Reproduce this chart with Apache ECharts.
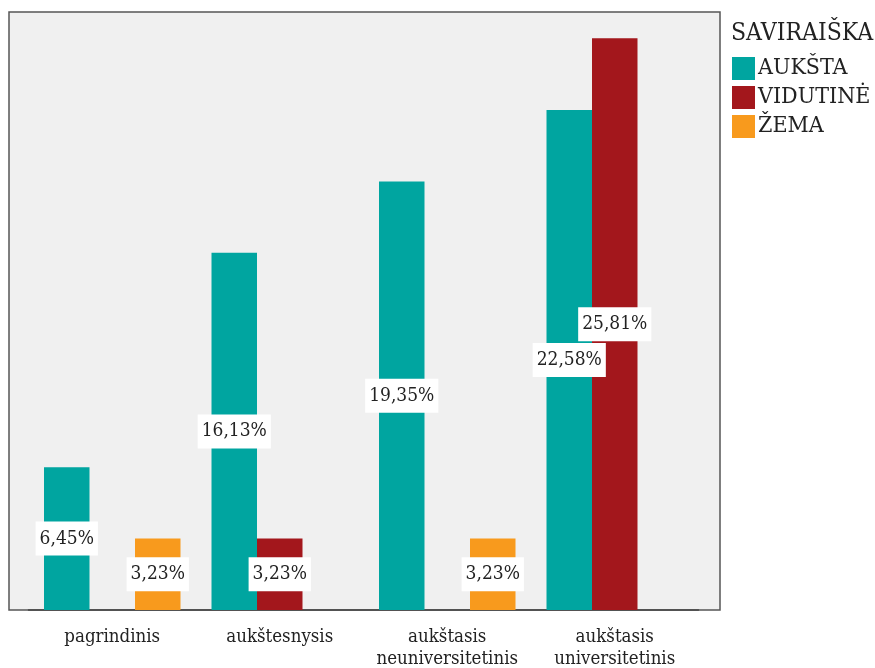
<!DOCTYPE html>
<html>
<head>
<meta charset="utf-8">
<script src="https://cdn.jsdelivr.net/npm/echarts@6/dist/echarts.min.js"></script>
<style>
html,body{margin:0;padding:0;background:#fff;}
#chart{width:875px;height:668px;}
</style>
</head>
<body>
<div id="chart"></div>
<script>
const categories = ['pagrindinis', 'aukštesnysis', 'aukštasis\nneuniversitetinis', 'aukštasis\nuniversitetinis'];
const legendTitle = 'SAVIRAIŠKA';
const seriesNames = ['AUKŠTA', 'VIDUTINĖ', 'ŽEMA'];
const aukstaValues = [6.45, 16.13, 19.35, 22.58];
const vidutineValues = [null, 3.23, null, 25.81];
const zemaValues = [3.23, null, 3.23, null];
const colors = ['#00a5a0', '#a3171c', '#f89a1d'];

const FONT = "'DejaVu Serif Condensed', 'DejaVu Serif'";
const chart = echarts.init(document.getElementById('chart'), null, {renderer: 'canvas'});

function barSeries(name, data, color) {
  return {
    name: name,
    type: 'bar',
    xAxisIndex: 1,
    yAxisIndex: 1,
    data: data,
    barWidth: 45.5,
    barGap: '0%',
    itemStyle: {color: color},
    label: {
      show: true,
      position: 'inside',
      formatter: p => p.value == null ? '' : p.value.toFixed(2).replace('.', ',') + '%',
      backgroundColor: '#ffffff',
      padding: [8, 4, 7, 4],
      color: '#222',
      fontFamily: FONT,
      fontSize: 19
    },
    emphasis: {disabled: true},
    animation: false
  };
}

chart.setOption({
  animation: false,
  title: {
    text: legendTitle,
    left: 731,
    top: 21,
    padding: 0,
    textStyle: {fontFamily: FONT, fontWeight: 'normal', fontSize: 24.5, color: '#222'}
  },
  legend: {
    orient: 'vertical',
    left: 732,
    top: 57,
    padding: 0,
    itemWidth: 23,
    itemHeight: 23,
    itemGap: 6,
    icon: 'rect',
    data: seriesNames,
    textStyle: {fontFamily: FONT, fontSize: 23, color: '#222', padding: [0, 0, 0, -2]}
  },
  grid: [
    {left: 9, right: 155, top: 12, bottom: 58, show: true, backgroundColor: '#f0f0f0', borderColor: '#555', borderWidth: 1.5, z: 0, containLabel: false, outerBoundsMode: 'none'},
    {left: 28.5, right: 176.5, top: 12, bottom: 58, containLabel: false, outerBoundsMode: 'none'}
  ],
  xAxis: [
    {gridIndex: 0, type: 'value', show: false},
    {
      gridIndex: 1,
      type: 'category',
      data: categories,
      axisLine: {lineStyle: {color: '#444', width: 1.5}},
      axisTick: {alignWithLabel: true, length: 8, lineStyle: {color: '#444', width: 1.5}},
      axisLabel: {fontFamily: FONT, fontSize: 18.5, color: '#222', lineHeight: 22, margin: 16, interval: 0}
    }
  ],
  yAxis: [
    {gridIndex: 0, type: 'value', show: false},
    {gridIndex: 1, type: 'value', min: 0, max: 27, show: false}
  ],
  series: [
    barSeries(seriesNames[0], aukstaValues, colors[0]),
    barSeries(seriesNames[1], vidutineValues, colors[1]),
    barSeries(seriesNames[2], zemaValues, colors[2])
  ]
});
</script>
</body>
</html>
